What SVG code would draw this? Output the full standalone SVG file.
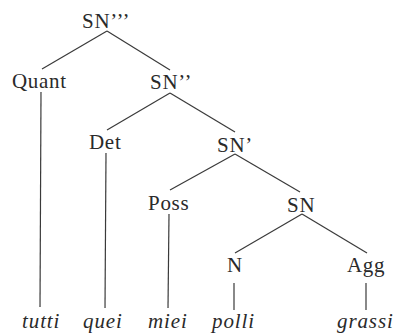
<svg xmlns="http://www.w3.org/2000/svg" width="397" height="335" viewBox="0 0 397 335">
<style>
text{font-family:'Liberation Serif','Times New Roman',serif;font-size:21px;fill:#2a2a2a}
.n{letter-spacing:0.7px}
.w{font-style:italic;letter-spacing:0.9px}
.e line{stroke:#3a3a3a;stroke-width:1.2}
</style>
<rect width="397" height="335" fill="#fff"/>
<g id="connectors" class="e">
<line x1="107" y1="31" x2="42" y2="69"/>
<line x1="107" y1="31" x2="170" y2="70"/>
<line x1="41" y1="92" x2="40" y2="307"/>
<line x1="170" y1="93" x2="107" y2="130"/>
<line x1="170" y1="93" x2="235" y2="132"/>
<line x1="106" y1="153" x2="105" y2="308"/>
<line x1="235" y1="154" x2="170" y2="190"/>
<line x1="235" y1="154" x2="300" y2="192"/>
<line x1="169" y1="214" x2="168" y2="308"/>
<line x1="302" y1="214" x2="235" y2="253"/>
<line x1="302" y1="214" x2="367" y2="253"/>
<line x1="234" y1="283" x2="234" y2="310"/>
<line x1="366" y1="283" x2="366" y2="310"/>
</g>
<g id="SN3"><text class="n" x="82" y="28">SN’’’</text></g>
<g id="Quant"><text class="n" x="12" y="88">Quant</text></g>
<g id="SN2"><text class="n" x="150" y="89">SN’’</text></g>
<g id="Det"><text class="n" x="89" y="149">Det</text></g>
<g id="SN1"><text class="n" x="217" y="152">SN’</text></g>
<g id="Poss"><text class="n" x="148" y="210">Poss</text></g>
<g id="SN"><text class="n" x="287" y="212">SN</text></g>
<g id="N"><text class="n" x="227" y="272">N</text></g>
<g id="Agg"><text class="n" x="347" y="272">Agg</text></g>
<g id="tutti"><text class="w" x="22" y="328">tutti</text></g>
<g id="quei"><text class="w" x="83" y="328">quei</text></g>
<g id="miei"><text class="w" x="148" y="328">miei</text></g>
<g id="polli"><text class="w" x="212" y="328">polli</text></g>
<g id="grassi"><text class="w" x="337" y="328">grassi</text></g>
</svg>
